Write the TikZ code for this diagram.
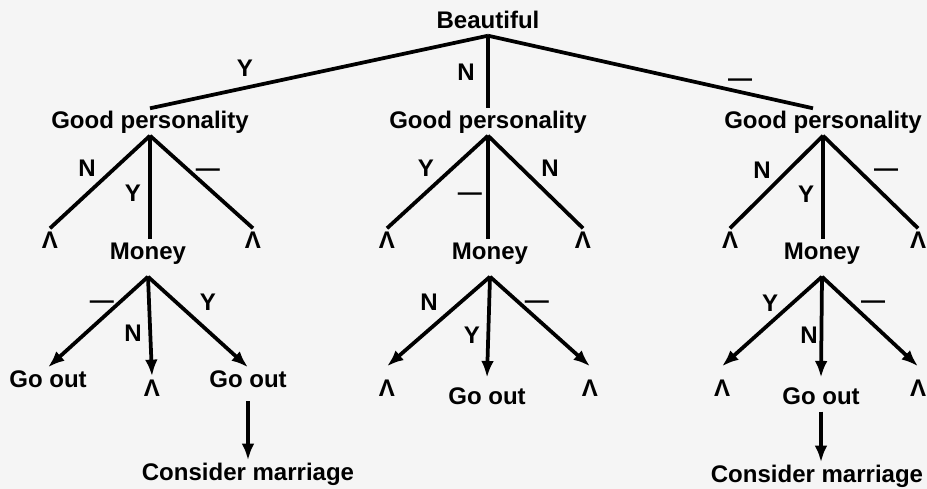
\documentclass[tikz,border=0pt]{standalone}
\usepackage{fontspec}
\setmainfont{Liberation Sans}
\usetikzlibrary{arrows.meta, positioning}
\tikzset{
  word/.style={font=\fontsize{20.5}{24}\selectfont\bfseries, text height=15pt,
               text depth=4pt, inner sep=2pt},
  answer/.style={font=\fontsize{20.5}{24}\selectfont\bfseries, text height=15pt,
                 text depth=4pt, inner sep=0pt},
  branch/.style={line width=3.2pt},
}

\begin{document}
\begin{tikzpicture}[
  x=0.03cm, y=-0.03cm,
  arrow/.style={-{Latex[length=5mm,width=3.8mm]}, line width=3.2pt}
]
  \fill[black!4] (0,0) rectangle (927,489);
  \useasboundingbox (0,0) rectangle (927,489);

  % Root
  \node (beautiful) at (488,22) [word] {Beautiful};

  % Personality level
  \node (gp1) at (150,122) [word] {Good personality};
  \node (gp2) at (488,122) [word] {Good personality};
  \node (gp3) at (823,122) [word] {Good personality};

  \draw[branch] (beautiful.south) -- (gp1.north);
  \draw[branch] (beautiful.south) -- (gp2.north);
  \draw[branch] (beautiful.south) -- ([xshift=-3mm]gp3.north);
  \node (b-y) at (245,70) [answer] {Y};
  \node (b-n) at (466,74) [answer] {N};
  \node (b-d) at (740,80) [answer] {—};

  % Money level
  \node (lam1) at (50,242) [word] {Λ};
  \node (mon1) at (148,253) [word] {Money};
  \node (lam2) at (253,242) [word] {Λ};
  \node (lam3) at (387,242) [word] {Λ};
  \node (mon2) at (490,253) [word] {Money};
  \node (lam4) at (583,242) [word] {Λ};
  \node (lam5) at (730,242) [word] {Λ};
  \node (mon3) at (822,253) [word] {Money};
  \node (lam6) at (918,242) [word] {Λ};

  \draw[branch] (gp1.south) -- (lam1.north);
  \draw[branch] (gp1.south) -- (mon1.north -| gp1.south);
  \draw[branch] (gp1.south) -- (lam2.north);
  \draw[branch] (gp2.south) -- (lam3.north);
  \draw[branch] (gp2.south) -- (mon2.north -| gp2.south);
  \draw[branch] (gp2.south) -- (lam4.north);
  \draw[branch] (gp3.south) -- (lam5.north);
  \draw[branch] (gp3.south) -- (mon3.north -| gp3.south);
  \draw[branch] (gp3.south) -- (lam6.north);

  \node (p1-n) at (87,170) [answer] {N};
  \node (p1-y) at (133,195) [answer] {Y};
  \node (p1-d) at (208,170) [answer] {—};
  \node (p2-y) at (426,170) [answer] {Y};
  \node (p2-d) at (470,194) [answer] {—};
  \node (p2-n) at (550,170) [answer] {N};
  \node (p3-n) at (762,172) [answer] {N};
  \node (p3-y) at (806,196) [answer] {Y};
  \node (p3-d) at (886,170) [answer] {—};

  % Outcomes
  \node (out1) at (48,381) [word] {Go out};
  \node (lam7) at (152,390) [word] {Λ};
  \node (out2) at (248,381) [word] {Go out};
  \node (lam8) at (387,390) [word] {Λ};
  \node (out3) at (487,398) [word] {Go out};
  \node (lam9) at (590,390) [word] {Λ};
  \node (lam10) at (722,390) [word] {Λ};
  \node (out4) at (821,398) [word] {Go out};
  \node (lam11) at (918,390) [word] {Λ};

  \draw[arrow] ([yshift=-3mm]mon1.south) -- (out1.north);
  \draw[arrow] ([yshift=-3mm]mon1.south) -- (lam7.north);
  \draw[arrow] ([yshift=-3mm]mon1.south) -- (out2.north);
  \draw[arrow] ([yshift=-3mm]mon2.south) -- ([yshift=3mm]lam8.north);
  \draw[arrow] ([yshift=-3mm]mon2.south) -- ([yshift=2mm]out3.north);
  \draw[arrow] ([yshift=-3mm]mon2.south) -- ([yshift=3mm]lam9.north);
  \draw[arrow] ([yshift=-3mm]mon3.south) -- ([yshift=3mm]lam10.north);
  \draw[arrow] ([yshift=-3mm]mon3.south) -- ([yshift=2mm]out4.north);
  \draw[arrow] ([yshift=-3mm]mon3.south) -- ([yshift=3mm]lam11.north);

  \node (m1-d) at (102,302) [answer] {—};
  \node (m1-n) at (133,335) [answer] {N};
  \node (m1-y) at (208,304) [answer] {Y};
  \node (m2-n) at (429,304) [answer] {N};
  \node (m2-y) at (472,337) [answer] {Y};
  \node (m2-d) at (537,302) [answer] {—};
  \node (m3-y) at (770,305) [answer] {Y};
  \node (m3-n) at (809,337) [answer] {N};
  \node (m3-d) at (873,302) [answer] {—};

  % Final step
  \node (wed1) at (248,474) [word] {Consider marriage};
  \node (wed2) at (817,476) [word] {Consider marriage};

  \draw[arrow, shorten <=2mm] (out2.south) -- (out2.south |- wed1.north);
  \draw[arrow] (out4.south) -- (out4.south |- wed2.north);

\end{tikzpicture}
\end{document}
